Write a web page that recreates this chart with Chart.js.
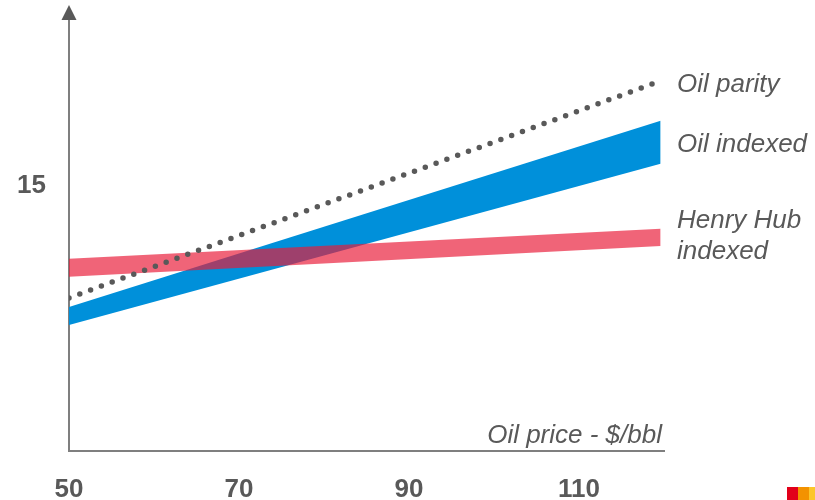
<!DOCTYPE html>
<html>
<head>
<meta charset="utf-8">
<script src="https://cdn.jsdelivr.net/npm/chart.js@4.4.1/dist/chart.umd.min.js"></script>
<style>
  html, body { margin: 0; padding: 0; background: #fff; }
  #wrap { width: 815px; height: 500px; }
</style>
</head>
<body>
<div id="wrap"><canvas id="mycanvas" width="815" height="500"></canvas></div>
<script>
// dados
var oilPrice = [50, 119.6];          // $/bbl
var parityPrice = [50, 119];
var oilIndexedHigh = [8.15, 18.68];
var oilIndexedLow = [7.13, 16.25];
var henryHubHigh = [10.87, 12.57];
var henryHubLow = [9.85, 11.60];
var oilParity = [8.66, 20.83];
var xTicks = [50, 70, 90, 110];
var yTicks = [15];
var seriesNames = ['Oil parity', 'Oil indexed', 'Henry Hub', 'indexed'];
var axisTitle = 'Oil price - $/bbl';

function pts(xs, ys) {
  var out = [];
  for (var i = 0; i < xs.length; i++) {
    out.push({x: xs[i], y: ys[i]});
  }
  return out;
}

var fontFam = "'Liberation Sans', Arial, sans-serif";
var textCol = '#595959';

// seta do eixo, textos e logo
var extras = {
  id: 'extras',
  afterDraw: function(chart) {
    var c = chart.ctx;
    var a = chart.chartArea;
    var ys = chart.scales.y;
    c.save();
    // arrow
    c.fillStyle = textCol;
    c.beginPath();
    c.moveTo(a.left, 5);
    c.lineTo(a.left - 7.5, 20);
    c.lineTo(a.left + 7.5, 20);
    c.closePath();
    c.fill();

    c.fillStyle = textCol;
    c.font = 'italic 26px ' + fontFam;
    c.textBaseline = 'alphabetic';
    c.textAlign = 'left';
    var lx = a.right + 13;
    var pY = ys.getPixelForValue(oilParity[1]);
    c.fillText(seriesNames[0], lx, pY + 9);
    var oY = (ys.getPixelForValue(oilIndexedHigh[1]) + ys.getPixelForValue(oilIndexedLow[1])) / 2;
    c.fillText(seriesNames[1], lx, oY + 9.5);
    var hY = (ys.getPixelForValue(henryHubHigh[1]) + ys.getPixelForValue(henryHubLow[1])) / 2;
    c.fillText(seriesNames[2], lx, hY - 9.5);
    c.fillText(seriesNames[3], lx, hY + 21.5);

    c.textAlign = 'right';
    c.fillText(axisTitle, a.right - 2, a.bottom - 8);

    // logo
    c.fillStyle = '#e2001a';
    c.fillRect(787, 487, 11, 13);
    c.fillStyle = '#f39200';
    c.fillRect(798, 487, 11, 13);
    c.fillStyle = '#fcc629';
    c.fillRect(809, 487, 6, 13);
    c.restore();
  }
};

var chartdata = {
  datasets: [
    {
      label: 'Oil indexed high',
      data: pts(oilPrice, oilIndexedHigh),
      borderWidth: 0,
      borderColor: 'rgba(0,0,0,0)',
      pointRadius: 0,
      fill: false,
      order: 2
    },
    {
      label: 'Oil indexed',
      data: pts(oilPrice, oilIndexedLow),
      borderWidth: 0,
      borderColor: 'rgba(0,0,0,0)',
      backgroundColor: '#0090da',
      pointRadius: 0,
      fill: '-1',
      order: 2
    },
    {
      label: 'Henry Hub high',
      data: pts(oilPrice, henryHubHigh),
      borderWidth: 0,
      borderColor: 'rgba(0,0,0,0)',
      pointRadius: 0,
      fill: false,
      order: 1
    },
    {
      label: 'Henry Hub indexed',
      data: pts(oilPrice, henryHubLow),
      borderWidth: 0,
      borderColor: 'rgba(0,0,0,0)',
      backgroundColor: 'rgba(233,27,56,0.68)',
      pointRadius: 0,
      fill: '-1',
      order: 1
    },
    {
      label: 'Oil parity',
      data: pts(parityPrice, oilParity),
      borderColor: textCol,
      borderWidth: 5.5,
      borderDash: [0, 11.5],
      borderCapStyle: 'round',
      pointRadius: 0,
      fill: false,
      order: 0
    }
  ]
};

var ctx = document.getElementById('mycanvas');

var lineGraph = new Chart(ctx, {
  type: 'line',
  data: chartdata,
  plugins: [extras],
  options: {
    responsive: false,
    animation: false,
    events: [],
    layout: { padding: { top: 9, right: 151, left: 0, bottom: 0 } },
    plugins: {
      legend: { display: false },
      tooltip: { enabled: false }
    },
    scales: {
      x: {
        type: 'linear',
        min: 50,
        max: 120,
        afterBuildTicks: function(scale) {
          scale.ticks = xTicks.map(function(v) { return {value: v}; });
        },
        afterFit: function(scale) {
          scale.height = 49;
          scale.paddingLeft = 0;
          scale.paddingRight = 0;
        },
        grid: { display: false, drawTicks: false },
        border: { display: true, color: '#7f7f7f', width: 2 },
        ticks: {
          padding: 23,
          maxRotation: 0,
          color: textCol,
          font: { family: fontFam, size: 26, weight: 'bold' }
        }
      },
      y: {
        type: 'linear',
        min: 0,
        max: 25,
        afterBuildTicks: function(scale) {
          scale.ticks = yTicks.map(function(v) { return {value: v}; });
        },
        afterFit: function(scale) {
          scale.width = 69;
          scale.paddingTop = 0;
          scale.paddingBottom = 0;
        },
        grid: { display: false, drawTicks: false },
        border: { display: true, color: '#7f7f7f', width: 2 },
        ticks: {
          padding: 23,
          color: textCol,
          font: { family: fontFam, size: 26, weight: 'bold' }
        }
      }
    }
  }
});
</script>
</body>
</html>
